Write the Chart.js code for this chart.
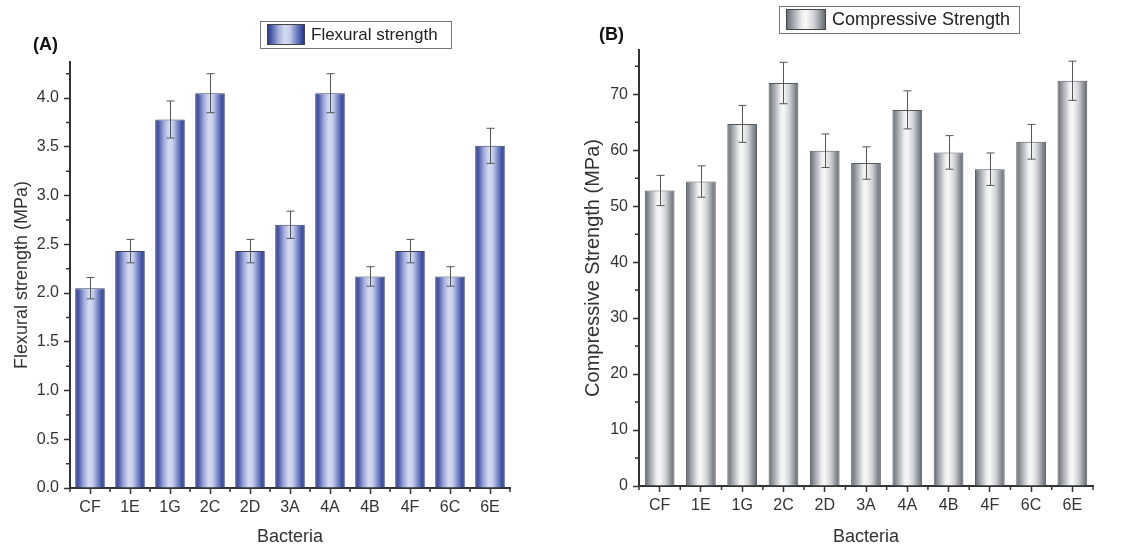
<!DOCTYPE html>
<html>
<head>
<meta charset="utf-8">
<script src="https://cdn.jsdelivr.net/npm/chart.js@4/dist/chart.umd.min.js"></script>
<style>
  body { margin: 0; background: #fff; }
  .panel { position: absolute; top: 0; height: 552px; }
  #panelA { left: 0; width: 570px; }
  #panelB { left: 570px; width: 569px; }
</style>
</head>
<body>
<div class="panel" id="panelA"><canvas id="chartA"></canvas></div>
<div class="panel" id="panelB"><canvas id="chartB"></canvas></div>
<script>
// data
const bacteria = ['CF', '1E', '1G', '2C', '2D', '3A', '4A', '4B', '4F', '6C', '6E'];
const flexural = [2.05, 2.43, 3.78, 4.05, 2.43, 2.70, 4.05, 2.17, 2.43, 2.17, 3.51];
const flexuralErr = [0.11, 0.12, 0.19, 0.20, 0.12, 0.14, 0.20, 0.10, 0.12, 0.10, 0.18];
const compressive = [52.8, 54.4, 64.7, 72.0, 59.9, 57.7, 67.2, 59.6, 56.6, 61.5, 72.4];
const compressiveErr = [2.7, 2.8, 3.3, 3.7, 3.0, 2.9, 3.4, 3.0, 2.9, 3.1, 3.5];
const flexTicks = [0, 0.5, 1.0, 1.5, 2.0, 2.5, 3.0, 3.5, 4.0];
const compTicks = [0, 10, 20, 30, 40, 50, 60, 70];

const FONT = "'Liberation Sans', Arial, sans-serif";
const AXIS = '#333';

const blueStops = [[0, '#24378e'], [0.1, '#4656a6'], [0.3, '#a3aeda'], [0.47, '#d6dcf0'],
  [0.6, '#c5cdea'], [0.8, '#6878be'], [0.94, '#2f439c'], [1, '#24378e']];
const greyStops = [[0, '#62676d'], [0.15, '#979ca2'], [0.4, '#eceef0'], [0.5, '#f7f8f8'],
  [0.7, '#d0d3d6'], [0.9, '#83888e'], [1, '#62676d']];

function makeGrad(ctx, x0, x1, stops) {
  const g = ctx.createLinearGradient(x0, 0, x1, 0);
  stops.forEach(s => g.addColorStop(s[0], s[1]));
  return g;
}

function barFill(stops, pct) {
  return function (c) {
    const chart = c.chart;
    const xs = chart.scales.x;
    if (!xs || c.dataIndex === undefined) return stops[3][1];
    const x = xs.getPixelForValue(c.dataIndex);
    const half = (xs.width / chart.data.labels.length) * pct / 2;
    if (!isFinite(x) || !isFinite(half) || half <= 0) return stops[3][1];
    return makeGrad(chart.ctx, x - half, x + half, stops);
  };
}

// error bars, minor ticks, legend box and panel letter
const extras = {
  id: 'extras',
  afterDatasetsDraw(chart, args, o) {
    const ctx = chart.ctx;
    const xs = chart.scales.x, ys = chart.scales.y;
    const vals = chart.data.datasets[0].data;
    ctx.save();
    ctx.strokeStyle = '#555';
    ctx.lineWidth = 1;
    vals.forEach((v, i) => {
      const x = Math.round(xs.getPixelForValue(i)) + 0.5;
      const t = ys.getPixelForValue(v + o.err[i]);
      const b = ys.getPixelForValue(v - o.err[i]);
      ctx.beginPath();
      ctx.moveTo(x, t); ctx.lineTo(x, b);
      ctx.moveTo(x - 4, t); ctx.lineTo(x + 4, t);
      ctx.moveTo(x - 4, b); ctx.lineTo(x + 4, b);
      ctx.stroke();
    });
    ctx.restore();
  },
  afterDraw(chart, args, o) {
    const ctx = chart.ctx;
    const xs = chart.scales.x, ys = chart.scales.y;
    const area = chart.chartArea;
    ctx.save();
    ctx.strokeStyle = AXIS;
    ctx.lineWidth = 1.5;
    ctx.beginPath();
    // minor ticks on y
    for (let v = o.minorStep; v <= ys.max; v += o.minorStep * 2) {
      const y = ys.getPixelForValue(v);
      ctx.moveTo(area.left, y); ctx.lineTo(area.left - 4, y);
    }
    // minor ticks on x at category boundaries
    const n = chart.data.labels.length;
    for (let i = 0; i <= n; i++) {
      const x = xs.getPixelForValue(i - 0.5);
      ctx.moveTo(x, area.bottom); ctx.lineTo(x, area.bottom + 4);
    }
    ctx.stroke();

    // legend
    const L = o.legend;
    ctx.lineWidth = 1;
    ctx.strokeStyle = '#777';
    ctx.strokeRect(L.x + 0.5, L.y + 0.5, L.w, L.h);
    ctx.fillStyle = makeGrad(ctx, L.x + 7, L.x + 7 + L.sw, o.stops);
    ctx.fillRect(L.x + 7, L.y + 3, L.sw, L.h - 6);
    ctx.strokeStyle = '#444';
    ctx.strokeRect(L.x + 7.5, L.y + 3.5, L.sw - 1, L.h - 7);
    ctx.fillStyle = '#222';
    ctx.font = L.size + 'px ' + FONT;
    ctx.textBaseline = 'middle';
    ctx.fillText(o.label, L.x + 13 + L.sw, L.y + L.h / 2 + 1);

    // panel letter
    ctx.font = 'bold 18px ' + FONT;
    ctx.fillStyle = '#111';
    ctx.fillText(o.letter, o.letterX, o.letterY);
    ctx.restore();
  }
};

function buildChart(id, cfg) {
  return new Chart(document.getElementById(id), {
    type: 'bar',
    data: {
      labels: bacteria,
      datasets: [{
        label: cfg.label,
        data: cfg.values,
        backgroundColor: barFill(cfg.stops, cfg.pct),
        borderColor: cfg.border,
        borderWidth: 1,
        categoryPercentage: 1,
        barPercentage: cfg.pct
      }]
    },
    plugins: [extras],
    options: {
      responsive: true,
      maintainAspectRatio: false,
      animation: false,
      layout: { padding: cfg.padding },
      plugins: {
        legend: { display: false },
        tooltip: { enabled: false },
        extras: {
          err: cfg.err, stops: cfg.stops, label: cfg.label, legend: cfg.legend,
          letter: cfg.letter, letterX: cfg.letterX, letterY: cfg.letterY,
          minorStep: cfg.minorStep
        }
      },
      scales: {
        x: {
          offset: true,
          afterFit(scale) { scale.height = cfg.xHeight; },
          grid: { display: true, offset: false, drawOnChartArea: false, tickLength: 6, tickColor: AXIS, tickWidth: 1.5 },
          border: { display: true, color: AXIS, width: 2 },
          ticks: { color: AXIS, font: { family: FONT, size: 16 }, padding: 4, maxRotation: 0 },
          title: { display: true, text: 'Bacteria', color: '#333', font: { family: FONT, size: 18 }, padding: { top: 4, bottom: 4 } }
        },
        y: {
          min: 0,
          max: cfg.max,
          afterFit(scale) { scale.width = cfg.yWidth; },
          afterBuildTicks(scale) { scale.ticks = cfg.ticks.map(v => ({ value: v })); },
          grid: { display: true, drawOnChartArea: false, tickLength: 6, tickColor: AXIS, tickWidth: 1.5 },
          border: { display: true, color: AXIS, width: 2 },
          ticks: {
            color: AXIS, font: { family: FONT, size: 16 }, padding: 5,
            callback: v => cfg.fmt(v)
          },
          title: { display: true, text: cfg.yTitle, color: '#333', font: { family: FONT, size: cfg.titleSize }, padding: { top: 3, bottom: 3 } }
        }
      }
    }
  });
}

buildChart('chartA', {
  label: 'Flexural strength', values: flexural, err: flexuralErr, stops: blueStops,
  border: '#3b4261', pct: 0.74, max: 4.37, ticks: flexTicks, minorStep: 0.25,
  fmt: v => v.toFixed(1), titleSize: 18,
  yTitle: 'Flexural strength (MPa)',
  padding: { left: 8, right: 60, top: 62, bottom: 0 }, yWidth: 62, xHeight: 64,
  legend: { x: 260, y: 21, w: 191, h: 27, sw: 38, size: 17 },
  letter: '(A)', letterX: 33, letterY: 45
});

buildChart('chartB', {
  label: 'Compressive Strength', values: compressive, err: compressiveErr, stops: greyStops,
  border: '#555a60', pct: 0.72, max: 77.9, ticks: compTicks, minorStep: 5,
  fmt: v => String(v), titleSize: 20,
  yTitle: 'Compressive Strength (MPa)',
  padding: { left: 8, right: 46, top: 50, bottom: 0 }, yWidth: 61, xHeight: 66,
  legend: { x: 209, y: 6, w: 240, h: 27, sw: 40, size: 18 },
  letter: '(B)', letterX: 29, letterY: 35
});
</script>
</body>
</html>
